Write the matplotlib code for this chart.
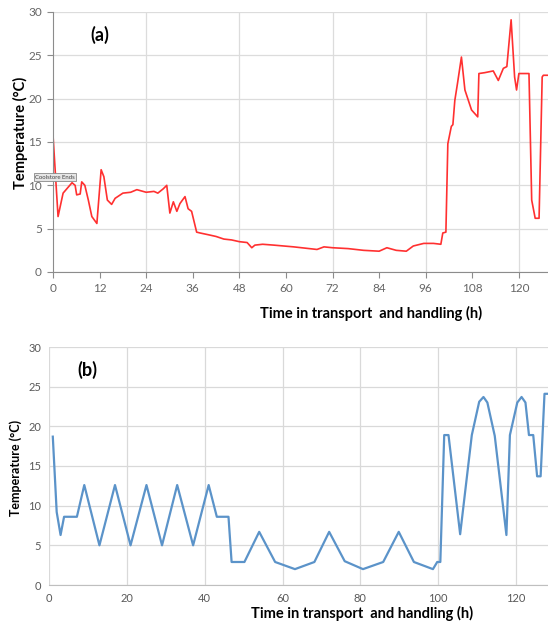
import numpy as np
import matplotlib.pyplot as plt

plt.rcParams['font.family'] = ['Lato', 'DejaVu Sans']

time_a = [0, 1.3, 2.6, 4.9, 5.7, 6.1, 7.0, 7.4, 8.2, 9.1, 10.0, 11.3, 12.4, 13.1,
          14.0, 15.1, 16.0, 18.0, 20.0, 21.6, 24.0, 26.0, 27.0, 28.4, 29.3, 30.1,
          31.0, 31.9, 32.7, 34.0, 34.8, 35.7, 37.0, 37.9, 40.0, 42.0, 44.0, 46.0,
          48.0, 50.0, 51.2, 52.0, 54.0, 56.9, 62.0, 68.0, 69.8, 72.0, 76.0, 80.0,
          84.0, 86.0, 88.4, 91.0, 92.8, 95.5, 98.0, 99.9, 100.4, 101.2, 101.7,
          102.6, 103.0, 103.5, 104.2, 105.2, 106.1, 107.8, 109.4, 109.7, 111.2,
          113.4, 114.7, 116.0, 116.9, 118.0, 118.9, 119.4, 120.0, 122.6, 123.3,
          124.2, 125.2, 126.0, 126.3, 127.5]
temp_a = [15.8, 6.4, 9.1, 10.3, 10.0, 8.9, 9.0, 10.4, 10.0, 8.3, 6.4, 5.6, 11.8, 11.0,
          8.3, 7.8, 8.5, 9.1, 9.2, 9.5, 9.2, 9.3, 9.1, 9.6, 10.0, 6.8,
          8.1, 7.0, 7.9, 8.7, 7.3, 7.0, 4.6, 4.5, 4.3, 4.1, 3.8, 3.7,
          3.5, 3.4, 2.8, 3.1, 3.2, 3.1, 2.9, 2.6, 2.9, 2.8, 2.7, 2.5,
          2.4, 2.8, 2.5, 2.4, 3.0, 3.3, 3.3, 3.2, 4.5, 4.6, 14.8,
          16.8, 17.0, 19.8, 21.8, 24.8, 21.0, 18.7, 17.9, 22.9, 23.0,
          23.2, 22.1, 23.5, 23.7, 29.1, 22.5, 21.0, 22.9, 22.9, 8.3,
          6.2, 6.2, 22.5, 22.7, 22.7]

# (b) simulated temperature profile
time_b = [0.9, 1.9, 2.9, 3.8, 7.1, 9.0, 12.9, 16.9, 20.9, 25.0, 29.0, 32.9, 37.0,
          41.0, 43.1, 46.1, 46.9, 50.2, 54.0, 58.1, 63.2, 68.2, 72.0, 76.0, 80.7,
          85.9, 89.9, 93.8, 98.7, 99.8, 100.6, 101.6, 102.7, 105.7, 108.7, 110.6,
          111.7, 112.7, 114.6, 117.6, 118.5, 120.4, 121.5, 122.5, 123.4, 124.5,
          125.5, 126.4, 127.4, 128.3]
temp_b = [18.7, 9.2, 6.3, 8.6, 8.6, 12.6, 5.0, 12.6, 5.0, 12.6, 5.0, 12.6, 5.0,
          12.6, 8.6, 8.6, 2.9, 2.9, 6.7, 2.9, 2.0, 2.9, 6.7, 3.0, 2.0,
          2.9, 6.7, 2.9, 2.0, 2.9, 2.9, 18.9, 18.9, 6.4, 18.9, 23.1,
          23.7, 23.0, 18.8, 6.3, 18.9, 23.0, 23.7, 23.0, 18.9, 18.9,
          13.7, 13.7, 24.1, 24.1]

W, H = 548, 624
fig = plt.figure(figsize=(W / 100, H / 100), dpi=100)

# ---- panel (a)
ax1 = fig.add_axes([53 / W, 352 / H, (W - 53) / W, 260 / H])
ax1.plot(time_a, temp_a, color='#ff3030', lw=1.2)
ax1.set_xlim(0, 127.5)
ax1.set_ylim(0, 30)
ax1.set_xticks(range(0, 121, 12))
ax1.set_yticks(range(0, 31, 5))
ax1.grid(axis='y', color='#dcdcdc', lw=0.9)
for v in range(24, 121, 24):
    ax1.axvline(v, color='#dcdcdc', lw=0.9, zorder=0)
ax1.set_axisbelow(True)
for s in ['top', 'right']:
    ax1.spines[s].set_visible(False)
for s in ['left', 'bottom']:
    ax1.spines[s].set_color('#8c8c8c')
ax1.tick_params(colors='#8c8c8c', labelcolor='#666666', labelsize=8.5, length=4, pad=4)
ax1.text(12, 27.3, '(a)', fontsize=13, fontweight='bold', ha='center', va='center')
ax1.text(-4.6, 10.95, 'Coolstore Ends', fontsize=4.3, color='#444444', va='center',
         clip_on=False,
         bbox=dict(boxstyle='square,pad=0.25', facecolor='#e6e6e6', edgecolor='#888888', lw=0.6))
fig.text(20 / W, 1 - 133 / H, 'Temperature (°C)', rotation=90, fontsize=10.5,
         fontweight='bold', ha='center', va='center')
fig.text(371 / W, 1 - 313 / H, 'Time in transport  and handling (h)', fontsize=10.5,
         fontweight='bold', ha='center', va='center')

# ---- panel (b)
ax2 = fig.add_axes([49.3 / W, 39 / H, (W - 49.3) / W, 238 / H])
ax2.plot(time_b, temp_b, color='#5b93c9', lw=1.6)
ax2.set_xlim(0, 128.3)
ax2.set_ylim(0, 30)
ax2.set_xticks(range(0, 121, 20))
ax2.set_yticks(range(0, 31, 5))
ax2.grid(color='#d9d9d9', lw=0.9)
ax2.set_axisbelow(True)
for s in ['top', 'right', 'left']:
    ax2.spines[s].set_visible(False)
ax2.spines['bottom'].set_color('#bfbfbf')
ax2.tick_params(length=0, labelcolor='#595959', labelsize=8, pad=6)
ax2.text(9.7, 27.1, '(b)', fontsize=13, fontweight='bold', ha='center', va='center')
fig.text(16 / W, 1 - 468 / H, 'Temperature (°C)', rotation=90, fontsize=9,
         fontweight='bold', ha='center', va='center')
fig.text(362 / W, 1 - 613 / H, 'Time in transport  and handling (h)', fontsize=10.5,
         fontweight='bold', ha='center', va='center')

fig.savefig('out.png', dpi=100)
